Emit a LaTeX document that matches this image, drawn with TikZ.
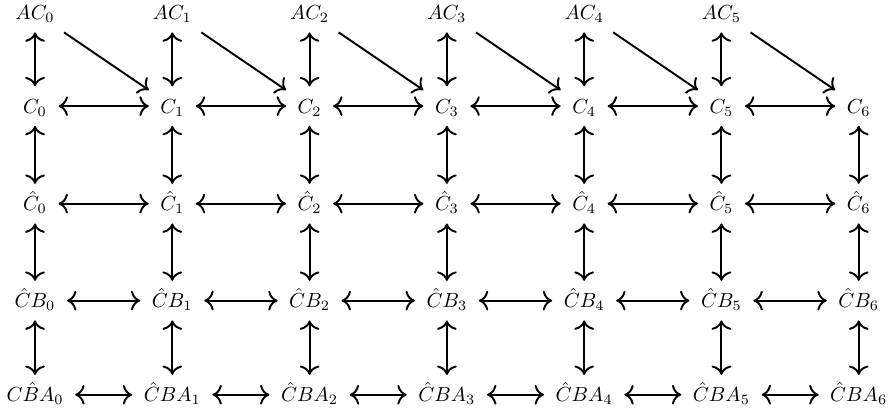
\documentclass[tikz,border=0pt]{standalone}
\usepackage{amsmath,amssymb}
\usepackage{xcolor}
\usepackage{tikz}
\usetikzlibrary{arrows.meta}

\begin{document}
\begin{tikzpicture}[>={Computer Modern Rightarrow[scale=1.25]}]
\tikzset{obj/.style={anchor=base,inner xsep=5.5pt,inner ysep=2pt,text height=11pt,text depth=4pt},
  link/.style={<->,line width=0.95pt},
  skew/.style={->,line width=0.95pt}}
\useasboundingbox (0,0) rectangle (15.36,7.11);
% objects, one column at a time
\foreach \i in {0,...,5}
  \node[obj] (ac\i) at (0.603+2.364*\i,6.77) {$AC_{\i}$};
\foreach \i in {0,...,6} {
  \node[obj] (c\i) at (0.603+2.364*\i,5.16) {$C_{\i}$};
  \node[obj] (hc\i) at (0.603+2.364*\i,3.48) {$\hat{C}_{\i}$};
  \node[obj] (cb\i) at (0.603+2.364*\i,1.81) {$\hat{C}B_{\i}$};
}
\node[obj] (cba0) at (0.603,0.19) {$C\hat{B}A_0$};
\foreach \i in {1,...,6}
  \node[obj] (cba\i) at (0.603+2.364*\i,0.19) {$\hat{C}BA_{\i}$};
% vertical links
\foreach \i in {0,...,5}
  \draw[link] (ac\i) -- (c\i);
\foreach \i in {0,...,6} {
  \draw[link] (c\i) -- (hc\i);
  \draw[link] (hc\i) -- (cb\i);
  \draw[link] (cb\i) -- (cba\i);
}
% horizontal links and the skew maps
\foreach \i [evaluate=\i as \j using int(\i+1)] in {0,...,5} {
  \draw[link] (c\i) -- (c\j);
  \draw[link] (hc\i) -- (hc\j);
  \draw[link] (cb\i) -- (cb\j);
  \draw[link] (cba\i) -- (cba\j);
  \draw[skew] (ac\i) -- (c\j);
}
\end{tikzpicture}
\end{document}
